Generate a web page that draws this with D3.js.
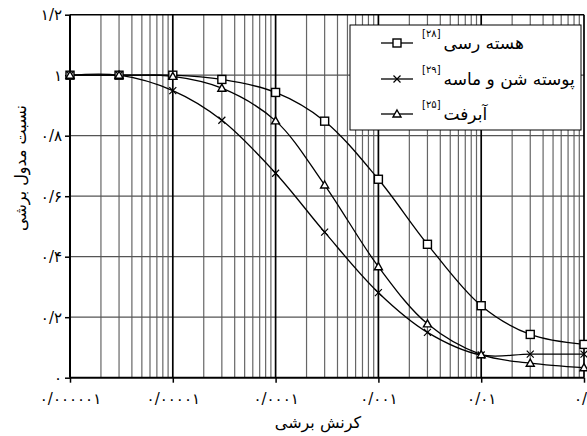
<!DOCTYPE html>
<html>
<head>
<meta charset="utf-8">
<script src="https://cdn.jsdelivr.net/npm/d3@7"></script>
<style>
  body { margin: 0; background: #fff; }
  svg { display: block; }
  text { font-family: "DejaVu Sans", sans-serif; fill: #000; }
</style>
</head>
<body>
<svg width="587" height="436"></svg>
<script>
const strain = [1e-6, 3e-6, 1e-5, 3e-5, 1e-4, 3e-4, 1e-3, 3e-3, 1e-2, 3e-2, 1e-1];
const clay = [1.0, 1.0, 1.0, 0.986, 0.943, 0.848, 0.656, 0.441, 0.238, 0.143, 0.11];
const sand = [1.0, 1.0, 0.949, 0.851, 0.676, 0.481, 0.281, 0.15, 0.075, 0.078, 0.078];
const alluvium = [1.0, 1.0, 0.996, 0.957, 0.849, 0.637, 0.367, 0.178, 0.076, 0.048, 0.033];
const seriesNames = ["هسته رسی", "پوسته شن و ماسه", "آبرفت"];
const seriesRefs = ["[۲۸]", "[۲۹]", "[۲۵]"];
const seriesMarkers = ["square", "cross", "triangle"];
const xTickValues = [1e-6, 1e-5, 1e-4, 1e-3, 1e-2, 1e-1];
const xTickLabels = ["۰/۰۰۰۰۰۱", "۰/۰۰۰۰۱", "۰/۰۰۰۱", "۰/۰۰۱", "۰/۰۱", "۰/۱"];
const yTickValues = [0, 0.2, 0.4, 0.6, 0.8, 1.0, 1.2];
const yTickLabels = ["۰", "۰/۲", "۰/۴", "۰/۶", "۰/۸", "۱", "۱/۲"];
const xTitle = "کرنش برشی";
const yTitle = "نسبت مدول برشی";

const LEFT = 70, RIGHT = 584, TOP = 14.7, BOTTOM = 377.7;

const svg = d3.select("svg");
const x = d3.scaleLog().domain([1e-6, 1e-1]).range([LEFT, RIGHT]);
const y = d3.scaleLinear().domain([0, 1.2]).range([BOTTOM, TOP]);

// minor vertical grid
let minors = [];
for (let d = 1e-6; d < 1e-1 * 0.99; d *= 10) {
  for (let k = 2; k <= 9; k++) minors.push(d * k);
}
svg.append("g")
  .selectAll("line")
  .data(minors)
  .join("line")
  .attr("x1", d => x(d))
  .attr("x2", d => x(d))
  .attr("y1", TOP)
  .attr("y2", BOTTOM)
  .attr("stroke", "#666")
  .attr("stroke-width", 1.2);

// horizontal grid
svg.append("g")
  .selectAll("line")
  .data(yTickValues.slice(1))
  .join("line")
  .attr("x1", LEFT)
  .attr("x2", RIGHT)
  .attr("y1", d => y(d))
  .attr("y2", d => y(d))
  .attr("stroke", d => (d === 1.2 ? "#000" : "#555"))
  .attr("stroke-width", d => (d === 1.2 ? 1.6 : 1.3));

// major vertical grid
svg.append("g")
  .selectAll("line")
  .data(xTickValues)
  .join("line")
  .attr("x1", d => x(d))
  .attr("x2", d => x(d))
  .attr("y1", TOP)
  .attr("y2", BOTTOM)
  .attr("stroke", "#000")
  .attr("stroke-width", (d, i) => (i === 0 ? 2 : 1.7));

// axes
const xAxis = svg.append("g")
  .attr("transform", `translate(0,${BOTTOM})`)
  .call(d3.axisBottom(x).tickValues(xTickValues).tickSize(5)
    .tickFormat((d, i) => xTickLabels[i]));
xAxis.select(".domain").attr("stroke-width", 2).attr("d", `M${LEFT},0H${RIGHT}`);
xAxis.selectAll(".tick line").attr("stroke-width", 1.5);
xAxis.selectAll(".tick text")
  .attr("y", 16)
  .style("font-size", "15px")
  .style("letter-spacing", "0.5px")
  .style("font-family", "DejaVu Sans");

const yAxis = svg.append("g")
  .attr("transform", `translate(${LEFT},0)`)
  .call(d3.axisLeft(y).tickValues(yTickValues).tickSize(5)
    .tickFormat((d, i) => yTickLabels[i]));
yAxis.select(".domain").remove();
yAxis.selectAll(".tick line").attr("stroke-width", 1.5);
yAxis.selectAll(".tick text")
  .attr("x", -8)
  .style("font-size", "15px")
  .style("font-family", "DejaVu Sans");

// titles
svg.append("text")
  .attr("x", 318)
  .attr("y", 428)
  .attr("text-anchor", "middle")
  .style("font-size", "16px")
  .text(xTitle);

svg.append("text")
  .attr("transform", "translate(26,168) rotate(-90)")
  .attr("text-anchor", "middle")
  .style("font-size", "16px")
  .text(yTitle);

// series
const allSeries = [clay, sand, alluvium];
const line = d3.line()
  .x((d, i) => x(strain[i]))
  .y(d => y(d))
  .curve(d3.curveCatmullRom.alpha(0.5));

svg.append("g")
  .selectAll("path")
  .data(allSeries)
  .join("path")
  .attr("d", line)
  .attr("fill", "none")
  .attr("stroke", "#000")
  .attr("stroke-width", 1.3);

function drawMarker(g, type, cx, cy) {
  if (type === "square") {
    g.append("rect")
      .attr("x", cx - 4).attr("y", cy - 4)
      .attr("width", 8).attr("height", 8)
      .attr("fill", "#fff").attr("stroke", "#000").attr("stroke-width", 1.4);
  } else if (type === "triangle") {
    g.append("path")
      .attr("d", `M${cx},${cy - 4}L${cx + 4},${cy + 3}L${cx - 4},${cy + 3}Z`)
      .attr("fill", "#fff").attr("stroke", "#000").attr("stroke-width", 1.4);
  } else {
    g.append("path")
      .attr("d", `M${cx - 3.5},${cy - 3.5}L${cx + 3.5},${cy + 3.5}M${cx + 3.5},${cy - 3.5}L${cx - 3.5},${cy + 3.5}`)
      .attr("stroke", "#000").attr("stroke-width", 1.2);
  }
}

const markerLayer = svg.append("g");
allSeries.forEach((vals, s) => {
  vals.forEach((v, i) => drawMarker(markerLayer, seriesMarkers[s], x(strain[i]), y(v)));
});

// legend
const legend = svg.append("g");
legend.append("rect")
  .attr("x", 350).attr("y", 25)
  .attr("width", 231).attr("height", 105)
  .attr("fill", "#fff").attr("stroke", "#000").attr("stroke-width", 1);

const rowY = [43, 79, 114];
seriesNames.forEach((name, s) => {
  const ry = rowY[s];
  legend.append("line")
    .attr("x1", 381).attr("x2", 413)
    .attr("y1", ry).attr("y2", ry)
    .attr("stroke", "#000").attr("stroke-width", 1.3);
  drawMarker(legend, seriesMarkers[s], 397, ry);
  const sup = legend.append("text")
    .attr("x", 422).attr("y", ry - 6)
    .style("font-size", "10px")
    .text(seriesRefs[s]);
  const w = sup.node().getComputedTextLength();
  legend.append("text")
    .attr("x", 422 + w + 3).attr("y", ry + 6)
    .style("font-size", "17px")
    .text(name);
});
</script>
</body>
</html>
